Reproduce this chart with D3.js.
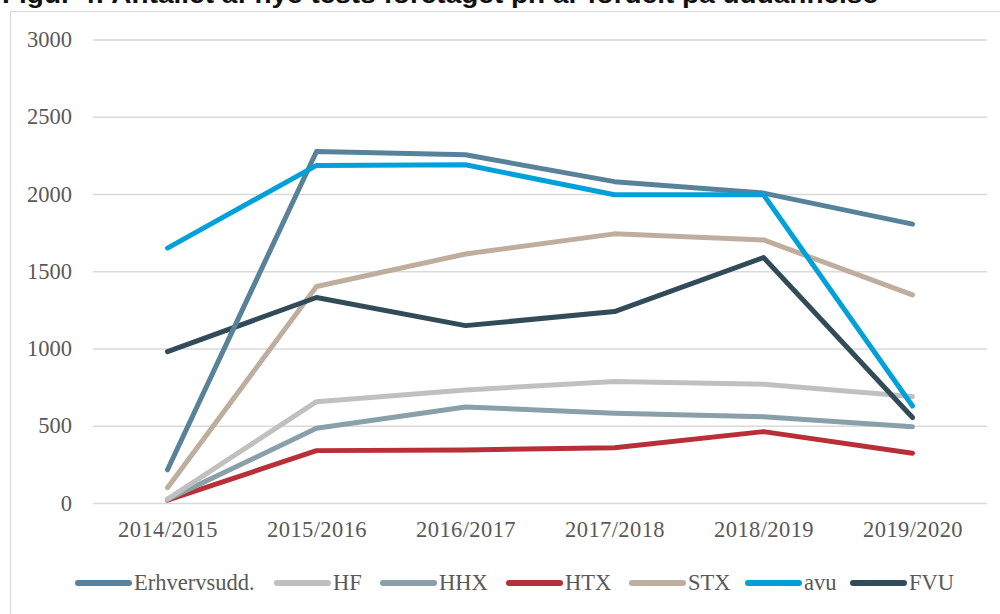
<!DOCTYPE html>
<html>
<head>
<meta charset="utf-8">
<script src="https://cdn.jsdelivr.net/npm/d3@7"></script>
<style>
  html, body { margin: 0; padding: 0; background: #fff; }
  svg { display: block; }
</style>
</head>
<body>
<svg id="chart" width="1000" height="614"></svg>
<script>
const title = "Figur 4: Antallet af nye tests foretaget pr. år fordelt på uddannelse";
const years = ["2014/2015", "2015/2016", "2016/2017", "2017/2018", "2018/2019", "2019/2020"];
const yTicks = [0, 500, 1000, 1500, 2000, 2500, 3000];

const seriesNames = ["Erhvervsudd.", "HF", "HHX", "HTX", "STX", "avu", "FVU"];
const erhvervsudd = [215, 2275, 2254, 2080, 2006, 1805];
const hf          = [25, 656, 732, 786, 769, 689];
const hhx         = [22, 484, 622, 581, 559, 494];
const htx         = [18, 339, 343, 358, 462, 322];
const stx         = [99, 1401, 1612, 1742, 1703, 1347];
const avu         = [1650, 2185, 2189, 1995, 1995, 628];
const fvu         = [980, 1330, 1148, 1239, 1589, 553];
const seriesValues = [erhvervsudd, hf, hhx, htx, stx, avu, fvu];
const seriesColors = ["#58829a", "#c0c0c0", "#89a0a9", "#b92f37", "#bfae9e", "#00a1da", "#324b59"];
// drawing order (back to front)
const drawOrder = ["HTX", "HHX", "HF", "STX", "FVU", "Erhvervsudd.", "avu"];

const svg = d3.select("#chart");
const font = "'Liberation Serif', 'DejaVu Serif', serif";
const textColor = "#595959";

// Title (partly cropped at top, as in the reference)
svg.append("text")
  .attr("x", 2).attr("y", 3)
  .attr("font-family", "'Liberation Sans', Arial, sans-serif")
  .attr("font-weight", "bold")
  .attr("font-size", 26)
  .attr("textLength", 876)
  .attr("lengthAdjust", "spacingAndGlyphs")
  .attr("fill", "#111")
  .text(title);

// Chart frame
svg.append("rect")
  .attr("x", 10.5).attr("y", 11.5)
  .attr("width", 1000).attr("height", 620)
  .attr("fill", "none").attr("stroke", "#d9d9d9").attr("stroke-width", 1.2);

const x = d3.scalePoint().domain(years).range([93, 987]).padding(0.5);
const y = d3.scaleLinear().domain([0, 3000]).range([503, 39.5]);

// gridlines
const yAxis = d3.axisLeft(y).tickValues(yTicks).tickSize(-(987 - 93)).tickPadding(21).tickFormat(d3.format("d"));
const gy = svg.append("g").attr("transform", "translate(93,0)").call(yAxis);
gy.select(".domain").remove();
gy.selectAll(".tick line").attr("stroke", "#d9d9d9").attr("stroke-width", 1.5);
gy.selectAll(".tick text")
  .attr("font-family", font).attr("font-size", 22.5).attr("fill", textColor);

const xAxis = d3.axisBottom(x).tickSize(0).tickPadding(18);
const gx = svg.append("g").attr("transform", "translate(0,503)").call(xAxis);
gx.select(".domain").remove();
gx.selectAll(".tick text")
  .attr("font-family", font).attr("font-size", 22.5).attr("fill", textColor)
  .attr("letter-spacing", 0.4);

// lines
const line = d3.line().x((d, i) => x(years[i])).y(d => y(d));
drawOrder.forEach(name => {
  const k = seriesNames.indexOf(name);
  svg.append("path")
    .datum(seriesValues[k])
    .attr("d", line)
    .attr("fill", "none")
    .attr("stroke", seriesColors[k])
    .attr("stroke-width", 5)
    .attr("stroke-linecap", "round")
    .attr("stroke-linejoin", "round");
});

// legend
const legendX = [76, 275, 381, 507, 630, 746, 851];
const legendY = 583;
const lg = svg.append("g");
seriesNames.forEach((name, k) => {
  const g = lg.append("g").attr("transform", `translate(${legendX[k]},${legendY})`);
  g.append("line").attr("x1", 2).attr("x2", 53).attr("y1", 0).attr("y2", 0)
    .attr("stroke", seriesColors[k]).attr("stroke-width", 6).attr("stroke-linecap", "round");
  g.append("text").attr("x", 58).attr("y", 7)
    .attr("font-family", font).attr("font-size", 22.5).attr("fill", textColor)
    .text(name);
});
</script>
</body>
</html>
